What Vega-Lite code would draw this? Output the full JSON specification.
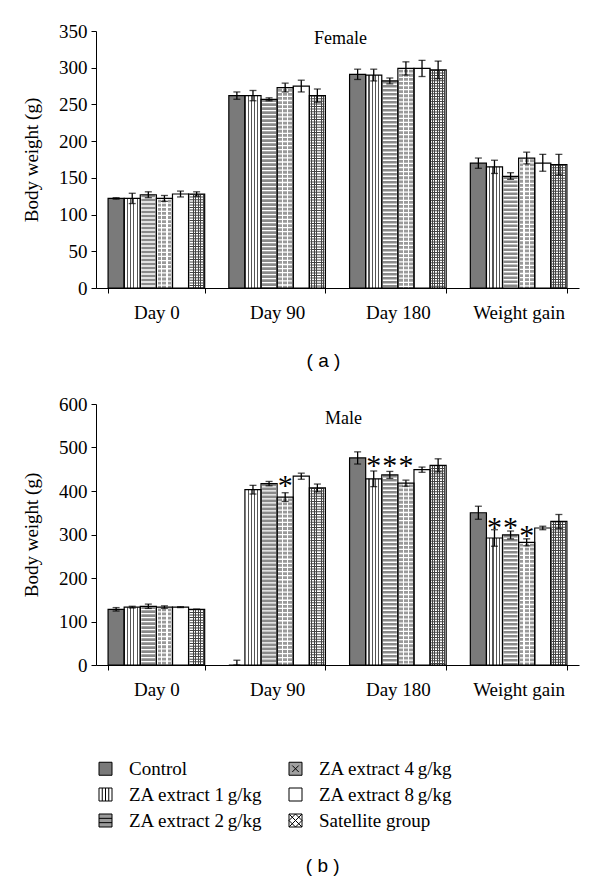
{
  "$schema": "https://vega.github.io/schema/vega-lite/v6.json",
  "background": "white",
  "padding": {"left": 22, "top": 22, "right": 5, "bottom": 5},
  "spacing": 25,
  "title": {"text": "( b )", "orient": "bottom", "anchor": "middle", "font": "Liberation Sans", "fontSize": 19, "fontWeight": "normal", "color": "black", "offset": 26, "dx": 22},
  "datasets": {
    "female": [
      {"cat": "Day 0", "g": "C", "group": "Control", "mean": 122, "lo": 121, "hi": 123},
      {"cat": "Day 0", "g": "Z1", "group": "ZA extract 1\u2009g/kg", "mean": 122, "lo": 115, "hi": 129},
      {"cat": "Day 0", "g": "Z2", "group": "ZA extract 2\u2009g/kg", "mean": 127, "lo": 123, "hi": 131},
      {"cat": "Day 0", "g": "Z4", "group": "ZA extract 4\u2009g/kg", "mean": 122, "lo": 118, "hi": 126},
      {"cat": "Day 0", "g": "Z8", "group": "ZA extract 8\u2009g/kg", "mean": 128, "lo": 124, "hi": 132},
      {"cat": "Day 0", "g": "S", "group": "Satellite group", "mean": 128, "lo": 125, "hi": 131},
      {"cat": "Day 90", "g": "C", "group": "Control", "mean": 262, "lo": 257, "hi": 267},
      {"cat": "Day 90", "g": "Z1", "group": "ZA extract 1\u2009g/kg", "mean": 262, "lo": 255, "hi": 269},
      {"cat": "Day 90", "g": "Z2", "group": "ZA extract 2\u2009g/kg", "mean": 257, "lo": 255, "hi": 259},
      {"cat": "Day 90", "g": "Z4", "group": "ZA extract 4\u2009g/kg", "mean": 273, "lo": 267, "hi": 279},
      {"cat": "Day 90", "g": "Z8", "group": "ZA extract 8\u2009g/kg", "mean": 275, "lo": 267, "hi": 283},
      {"cat": "Day 90", "g": "S", "group": "Satellite group", "mean": 262, "lo": 253, "hi": 271},
      {"cat": "Day 180", "g": "C", "group": "Control", "mean": 291, "lo": 284, "hi": 298},
      {"cat": "Day 180", "g": "Z1", "group": "ZA extract 1\u2009g/kg", "mean": 290, "lo": 282, "hi": 298},
      {"cat": "Day 180", "g": "Z2", "group": "ZA extract 2\u2009g/kg", "mean": 282, "lo": 278, "hi": 286},
      {"cat": "Day 180", "g": "Z4", "group": "ZA extract 4\u2009g/kg", "mean": 299, "lo": 290, "hi": 308},
      {"cat": "Day 180", "g": "Z8", "group": "ZA extract 8\u2009g/kg", "mean": 299, "lo": 288, "hi": 310},
      {"cat": "Day 180", "g": "S", "group": "Satellite group", "mean": 297, "lo": 285, "hi": 309},
      {"cat": "Weight gain", "g": "C", "group": "Control", "mean": 170, "lo": 163, "hi": 177},
      {"cat": "Weight gain", "g": "Z1", "group": "ZA extract 1\u2009g/kg", "mean": 165, "lo": 156, "hi": 174},
      {"cat": "Weight gain", "g": "Z2", "group": "ZA extract 2\u2009g/kg", "mean": 152, "lo": 148, "hi": 157},
      {"cat": "Weight gain", "g": "Z4", "group": "ZA extract 4\u2009g/kg", "mean": 177, "lo": 169, "hi": 185},
      {"cat": "Weight gain", "g": "Z8", "group": "ZA extract 8\u2009g/kg", "mean": 170, "lo": 159, "hi": 182},
      {"cat": "Weight gain", "g": "S", "group": "Satellite group", "mean": 168, "lo": 154, "hi": 182}
    ],
    "male": [
      {"cat": "Day 0", "g": "C", "group": "Control", "mean": 128, "lo": 124, "hi": 132},
      {"cat": "Day 0", "g": "Z1", "group": "ZA extract 1\u2009g/kg", "mean": 133, "lo": 131, "hi": 135},
      {"cat": "Day 0", "g": "Z2", "group": "ZA extract 2\u2009g/kg", "mean": 135, "lo": 130, "hi": 140},
      {"cat": "Day 0", "g": "Z4", "group": "ZA extract 4\u2009g/kg", "mean": 133, "lo": 130, "hi": 136},
      {"cat": "Day 0", "g": "Z8", "group": "ZA extract 8\u2009g/kg", "mean": 133, "lo": 132, "hi": 134},
      {"cat": "Day 0", "g": "S", "group": "Satellite group", "mean": 128, "lo": 128, "hi": 128},
      {"cat": "Day 90", "g": "C", "group": "Control", "mean": 0, "lo": 0, "hi": 11},
      {"cat": "Day 90", "g": "Z1", "group": "ZA extract 1\u2009g/kg", "mean": 403, "lo": 393, "hi": 413},
      {"cat": "Day 90", "g": "Z2", "group": "ZA extract 2\u2009g/kg", "mean": 417, "lo": 412, "hi": 422},
      {"cat": "Day 90", "g": "Z4", "group": "ZA extract 4\u2009g/kg", "mean": 386, "lo": 376, "hi": 396, "star": 422},
      {"cat": "Day 90", "g": "Z8", "group": "ZA extract 8\u2009g/kg", "mean": 434, "lo": 427, "hi": 441},
      {"cat": "Day 90", "g": "S", "group": "Satellite group", "mean": 407, "lo": 398, "hi": 416},
      {"cat": "Day 180", "g": "C", "group": "Control", "mean": 476, "lo": 462, "hi": 490},
      {"cat": "Day 180", "g": "Z1", "group": "ZA extract 1\u2009g/kg", "mean": 428, "lo": 410, "hi": 446, "star": 470},
      {"cat": "Day 180", "g": "Z2", "group": "ZA extract 2\u2009g/kg", "mean": 437, "lo": 429, "hi": 445, "star": 470},
      {"cat": "Day 180", "g": "Z4", "group": "ZA extract 4\u2009g/kg", "mean": 418, "lo": 411, "hi": 425, "star": 470},
      {"cat": "Day 180", "g": "Z8", "group": "ZA extract 8\u2009g/kg", "mean": 449, "lo": 443, "hi": 455},
      {"cat": "Day 180", "g": "S", "group": "Satellite group", "mean": 459, "lo": 444, "hi": 474},
      {"cat": "Weight gain", "g": "C", "group": "Control", "mean": 350, "lo": 335, "hi": 365},
      {"cat": "Weight gain", "g": "Z1", "group": "ZA extract 1\u2009g/kg", "mean": 292, "lo": 273, "hi": 311, "star": 326},
      {"cat": "Weight gain", "g": "Z2", "group": "ZA extract 2\u2009g/kg", "mean": 299, "lo": 290, "hi": 308, "star": 326},
      {"cat": "Weight gain", "g": "Z4", "group": "ZA extract 4\u2009g/kg", "mean": 282, "lo": 274, "hi": 290, "star": 307},
      {"cat": "Weight gain", "g": "Z8", "group": "ZA extract 8\u2009g/kg", "mean": 315, "lo": 311, "hi": 319},
      {"cat": "Weight gain", "g": "S", "group": "Satellite group", "mean": 330, "lo": 314, "hi": 346}
    ]
  },
  "vconcat": [
    {
      "width": 483,
      "height": 257,
      "data": {"name": "female"},
      "title": {"text": "Female", "frame": "group", "orient": "top", "anchor": "middle", "baseline": "top", "offset": -26, "dx": 3, "font": "Liberation Serif", "fontSize": 18, "fontWeight": "normal", "color": "black"},
      "encoding": {
        "x": {"field": "cat", "type": "nominal", "sort": ["Day 0", "Day 90", "Day 180", "Weight gain"], "scale": {"paddingInner": 0.2, "paddingOuter": 0.1}, "axis": {"title": "( a )", "labelAngle": 0, "tickBand": "extent", "labelPadding": 10, "titleFont": "Liberation Sans", "titleFontSize": 19, "titlePadding": 29, "titleX": 227}},
        "xOffset": {"field": "g", "type": "nominal", "scale": {"domain": ["C", "Z1", "Z2", "Z4", "Z8", "S"], "paddingInner": 0, "paddingOuter": 0}}
      },
      "layer": [
        {"mark": {"type": "bar", "fill": "white"}, "encoding": {"y": {"field": "mean", "type": "quantitative", "title": "Body weight (g)", "scale": {"domain": [0, 350], "nice": false}, "axis": {"values": [0, 50, 100, 150, 200, 250, 300, 350], "titlePadding": 17, "labelPadding": 4}}}},
        {"transform": [{"filter": "datum.g === 'C'"}], "mark": {"type": "bar", "fill": "#7a7a7a"}, "encoding": {"y": {"field": "mean", "type": "quantitative", "title": "Body weight (g)", "scale": {"domain": [0, 350], "nice": false}, "axis": {"values": [0, 50, 100, 150, 200, 250, 300, 350], "titlePadding": 17, "labelPadding": 4}}}},
        {"transform": [{"filter": "datum.g === 'Z1'"}], "mark": {"type": "bar", "fill": {"gradient": "linear", "x1": 0, "y1": 0, "x2": 1, "y2": 0, "stops": [{"offset": 0, "color": "white"}, {"offset": 0.17, "color": "white"}, {"offset": 0.17, "color": "#555555"}, {"offset": 0.24, "color": "#555555"}, {"offset": 0.24, "color": "white"}, {"offset": 0.37, "color": "white"}, {"offset": 0.37, "color": "#555555"}, {"offset": 0.44, "color": "#555555"}, {"offset": 0.44, "color": "white"}, {"offset": 0.57, "color": "white"}, {"offset": 0.57, "color": "#555555"}, {"offset": 0.64, "color": "#555555"}, {"offset": 0.64, "color": "white"}, {"offset": 0.77, "color": "white"}, {"offset": 0.77, "color": "#555555"}, {"offset": 0.84, "color": "#555555"}, {"offset": 0.84, "color": "white"}, {"offset": 1, "color": "white"}]}}, "encoding": {"y": {"field": "mean", "type": "quantitative", "title": "Body weight (g)", "scale": {"domain": [0, 350], "nice": false}, "axis": {"values": [0, 50, 100, 150, 200, 250, 300, 350], "titlePadding": 17, "labelPadding": 4}}}},
        {"transform": [{"filter": "datum.g === 'Z2'"}], "mark": {"type": "rule", "stroke": "#8a8a8a", "strokeWidth": 14, "strokeDash": [2.6, 1.4], "strokeCap": "butt"}, "encoding": {"y": {"field": "mean", "type": "quantitative", "title": "Body weight (g)", "scale": {"domain": [0, 350], "nice": false}, "axis": {"values": [0, 50, 100, 150, 200, 250, 300, 350], "titlePadding": 17, "labelPadding": 4}}, "y2": {"datum": 0}}},
        {"transform": [{"filter": "datum.g === 'Z4'"}], "mark": {"type": "bar", "fill": {"gradient": "linear", "x1": 0, "y1": 0, "x2": 1, "y2": 0, "stops": [{"offset": 0, "color": "white"}, {"offset": 0.07, "color": "white"}, {"offset": 0.07, "color": "#9a9a9a"}, {"offset": 0.3, "color": "#9a9a9a"}, {"offset": 0.3, "color": "white"}, {"offset": 0.38, "color": "white"}, {"offset": 0.38, "color": "#9a9a9a"}, {"offset": 0.62, "color": "#9a9a9a"}, {"offset": 0.62, "color": "white"}, {"offset": 0.7, "color": "white"}, {"offset": 0.7, "color": "#9a9a9a"}, {"offset": 0.93, "color": "#9a9a9a"}, {"offset": 0.93, "color": "white"}, {"offset": 1, "color": "white"}]}}, "encoding": {"y": {"field": "mean", "type": "quantitative", "title": "Body weight (g)", "scale": {"domain": [0, 350], "nice": false}, "axis": {"values": [0, 50, 100, 150, 200, 250, 300, 350], "titlePadding": 17, "labelPadding": 4}}}},
        {"transform": [{"filter": "datum.g === 'Z4'"}], "mark": {"type": "rule", "stroke": "white", "strokeWidth": 15, "strokeDash": [1.3, 2.8], "strokeCap": "butt"}, "encoding": {"y": {"field": "mean", "type": "quantitative", "title": "Body weight (g)", "scale": {"domain": [0, 350], "nice": false}, "axis": {"values": [0, 50, 100, 150, 200, 250, 300, 350], "titlePadding": 17, "labelPadding": 4}}, "y2": {"datum": 0}}},
        {"transform": [{"filter": "datum.g === 'S'"}], "mark": {"type": "bar", "fill": {"gradient": "linear", "x1": 0, "y1": 0, "x2": 1, "y2": 0, "stops": [{"offset": 0, "color": "white"}, {"offset": 0.12, "color": "white"}, {"offset": 0.12, "color": "#444444"}, {"offset": 0.18, "color": "#444444"}, {"offset": 0.18, "color": "white"}, {"offset": 0.27, "color": "white"}, {"offset": 0.27, "color": "#444444"}, {"offset": 0.33, "color": "#444444"}, {"offset": 0.33, "color": "white"}, {"offset": 0.42, "color": "white"}, {"offset": 0.42, "color": "#444444"}, {"offset": 0.48, "color": "#444444"}, {"offset": 0.48, "color": "white"}, {"offset": 0.57, "color": "white"}, {"offset": 0.57, "color": "#444444"}, {"offset": 0.63, "color": "#444444"}, {"offset": 0.63, "color": "white"}, {"offset": 0.72, "color": "white"}, {"offset": 0.72, "color": "#444444"}, {"offset": 0.78, "color": "#444444"}, {"offset": 0.78, "color": "white"}, {"offset": 0.87, "color": "white"}, {"offset": 0.87, "color": "#444444"}, {"offset": 0.93, "color": "#444444"}, {"offset": 0.93, "color": "white"}, {"offset": 1, "color": "white"}]}}, "encoding": {"y": {"field": "mean", "type": "quantitative", "title": "Body weight (g)", "scale": {"domain": [0, 350], "nice": false}, "axis": {"values": [0, 50, 100, 150, 200, 250, 300, 350], "titlePadding": 17, "labelPadding": 4}}}},
        {"transform": [{"filter": "datum.g === 'S'"}], "mark": {"type": "rule", "stroke": "#444444", "strokeWidth": 14, "strokeDash": [1, 1.6], "strokeCap": "butt"}, "encoding": {"y": {"field": "mean", "type": "quantitative", "title": "Body weight (g)", "scale": {"domain": [0, 350], "nice": false}, "axis": {"values": [0, 50, 100, 150, 200, 250, 300, 350], "titlePadding": 17, "labelPadding": 4}}, "y2": {"datum": 0}}},
        {"mark": {"type": "bar", "filled": false, "stroke": "black", "strokeWidth": 1.2}, "encoding": {"y": {"field": "mean", "type": "quantitative", "title": "Body weight (g)", "scale": {"domain": [0, 350], "nice": false}, "axis": {"values": [0, 50, 100, 150, 200, 250, 300, 350], "titlePadding": 17, "labelPadding": 4}}}},
        {"mark": {"type": "rule", "stroke": "black", "strokeWidth": 1.3}, "encoding": {"y": {"field": "lo", "type": "quantitative", "title": "Body weight (g)", "scale": {"domain": [0, 350], "nice": false}, "axis": {"values": [0, 50, 100, 150, 200, 250, 300, 350], "titlePadding": 17, "labelPadding": 4}}, "y2": {"field": "hi"}}},
        {"mark": {"type": "tick", "color": "black", "size": 7, "thickness": 1.3}, "encoding": {"y": {"field": "hi", "type": "quantitative", "title": "Body weight (g)", "scale": {"domain": [0, 350], "nice": false}, "axis": {"values": [0, 50, 100, 150, 200, 250, 300, 350], "titlePadding": 17, "labelPadding": 4}}}},
        {"mark": {"type": "tick", "color": "black", "size": 7, "thickness": 1.3}, "encoding": {"y": {"field": "lo", "type": "quantitative", "title": "Body weight (g)", "scale": {"domain": [0, 350], "nice": false}, "axis": {"values": [0, 50, 100, 150, 200, 250, 300, 350], "titlePadding": 17, "labelPadding": 4}}}}
      ]
    },
    {
      "width": 483,
      "height": 261,
      "data": {"name": "male"},
      "title": {"text": "Male", "frame": "group", "orient": "top", "anchor": "middle", "baseline": "top", "offset": -33, "dx": 6, "font": "Liberation Serif", "fontSize": 18, "fontWeight": "normal", "color": "black"},
      "encoding": {
        "x": {"field": "cat", "type": "nominal", "sort": ["Day 0", "Day 90", "Day 180", "Weight gain"], "scale": {"paddingInner": 0.2, "paddingOuter": 0.1}, "axis": {"title": null, "labelAngle": 0, "tickBand": "extent", "labelPadding": 10}},
        "xOffset": {"field": "g", "type": "nominal", "scale": {"domain": ["C", "Z1", "Z2", "Z4", "Z8", "S"], "paddingInner": 0, "paddingOuter": 0}}
      },
      "layer": [
        {"mark": {"type": "bar", "fill": "white"}, "encoding": {"y": {"field": "mean", "type": "quantitative", "title": "Body weight (g)", "scale": {"domain": [0, 600], "nice": false}, "axis": {"values": [0, 100, 200, 300, 400, 500, 600], "titlePadding": 17, "labelPadding": 4}}}},
        {"transform": [{"filter": "datum.g === 'C'"}], "mark": {"type": "bar", "fill": "#7a7a7a"}, "encoding": {"y": {"field": "mean", "type": "quantitative", "title": "Body weight (g)", "scale": {"domain": [0, 600], "nice": false}, "axis": {"values": [0, 100, 200, 300, 400, 500, 600], "titlePadding": 17, "labelPadding": 4}}}},
        {"transform": [{"filter": "datum.g === 'Z1'"}], "mark": {"type": "bar", "fill": {"gradient": "linear", "x1": 0, "y1": 0, "x2": 1, "y2": 0, "stops": [{"offset": 0, "color": "white"}, {"offset": 0.17, "color": "white"}, {"offset": 0.17, "color": "#555555"}, {"offset": 0.24, "color": "#555555"}, {"offset": 0.24, "color": "white"}, {"offset": 0.37, "color": "white"}, {"offset": 0.37, "color": "#555555"}, {"offset": 0.44, "color": "#555555"}, {"offset": 0.44, "color": "white"}, {"offset": 0.57, "color": "white"}, {"offset": 0.57, "color": "#555555"}, {"offset": 0.64, "color": "#555555"}, {"offset": 0.64, "color": "white"}, {"offset": 0.77, "color": "white"}, {"offset": 0.77, "color": "#555555"}, {"offset": 0.84, "color": "#555555"}, {"offset": 0.84, "color": "white"}, {"offset": 1, "color": "white"}]}}, "encoding": {"y": {"field": "mean", "type": "quantitative", "title": "Body weight (g)", "scale": {"domain": [0, 600], "nice": false}, "axis": {"values": [0, 100, 200, 300, 400, 500, 600], "titlePadding": 17, "labelPadding": 4}}}},
        {"transform": [{"filter": "datum.g === 'Z2'"}], "mark": {"type": "rule", "stroke": "#8a8a8a", "strokeWidth": 14, "strokeDash": [2.6, 1.4], "strokeCap": "butt"}, "encoding": {"y": {"field": "mean", "type": "quantitative", "title": "Body weight (g)", "scale": {"domain": [0, 600], "nice": false}, "axis": {"values": [0, 100, 200, 300, 400, 500, 600], "titlePadding": 17, "labelPadding": 4}}, "y2": {"datum": 0}}},
        {"transform": [{"filter": "datum.g === 'Z4'"}], "mark": {"type": "bar", "fill": {"gradient": "linear", "x1": 0, "y1": 0, "x2": 1, "y2": 0, "stops": [{"offset": 0, "color": "white"}, {"offset": 0.07, "color": "white"}, {"offset": 0.07, "color": "#9a9a9a"}, {"offset": 0.3, "color": "#9a9a9a"}, {"offset": 0.3, "color": "white"}, {"offset": 0.38, "color": "white"}, {"offset": 0.38, "color": "#9a9a9a"}, {"offset": 0.62, "color": "#9a9a9a"}, {"offset": 0.62, "color": "white"}, {"offset": 0.7, "color": "white"}, {"offset": 0.7, "color": "#9a9a9a"}, {"offset": 0.93, "color": "#9a9a9a"}, {"offset": 0.93, "color": "white"}, {"offset": 1, "color": "white"}]}}, "encoding": {"y": {"field": "mean", "type": "quantitative", "title": "Body weight (g)", "scale": {"domain": [0, 600], "nice": false}, "axis": {"values": [0, 100, 200, 300, 400, 500, 600], "titlePadding": 17, "labelPadding": 4}}}},
        {"transform": [{"filter": "datum.g === 'Z4'"}], "mark": {"type": "rule", "stroke": "white", "strokeWidth": 15, "strokeDash": [1.3, 2.8], "strokeCap": "butt"}, "encoding": {"y": {"field": "mean", "type": "quantitative", "title": "Body weight (g)", "scale": {"domain": [0, 600], "nice": false}, "axis": {"values": [0, 100, 200, 300, 400, 500, 600], "titlePadding": 17, "labelPadding": 4}}, "y2": {"datum": 0}}},
        {"transform": [{"filter": "datum.g === 'S'"}], "mark": {"type": "bar", "fill": {"gradient": "linear", "x1": 0, "y1": 0, "x2": 1, "y2": 0, "stops": [{"offset": 0, "color": "white"}, {"offset": 0.12, "color": "white"}, {"offset": 0.12, "color": "#444444"}, {"offset": 0.18, "color": "#444444"}, {"offset": 0.18, "color": "white"}, {"offset": 0.27, "color": "white"}, {"offset": 0.27, "color": "#444444"}, {"offset": 0.33, "color": "#444444"}, {"offset": 0.33, "color": "white"}, {"offset": 0.42, "color": "white"}, {"offset": 0.42, "color": "#444444"}, {"offset": 0.48, "color": "#444444"}, {"offset": 0.48, "color": "white"}, {"offset": 0.57, "color": "white"}, {"offset": 0.57, "color": "#444444"}, {"offset": 0.63, "color": "#444444"}, {"offset": 0.63, "color": "white"}, {"offset": 0.72, "color": "white"}, {"offset": 0.72, "color": "#444444"}, {"offset": 0.78, "color": "#444444"}, {"offset": 0.78, "color": "white"}, {"offset": 0.87, "color": "white"}, {"offset": 0.87, "color": "#444444"}, {"offset": 0.93, "color": "#444444"}, {"offset": 0.93, "color": "white"}, {"offset": 1, "color": "white"}]}}, "encoding": {"y": {"field": "mean", "type": "quantitative", "title": "Body weight (g)", "scale": {"domain": [0, 600], "nice": false}, "axis": {"values": [0, 100, 200, 300, 400, 500, 600], "titlePadding": 17, "labelPadding": 4}}}},
        {"transform": [{"filter": "datum.g === 'S'"}], "mark": {"type": "rule", "stroke": "#444444", "strokeWidth": 14, "strokeDash": [1, 1.6], "strokeCap": "butt"}, "encoding": {"y": {"field": "mean", "type": "quantitative", "title": "Body weight (g)", "scale": {"domain": [0, 600], "nice": false}, "axis": {"values": [0, 100, 200, 300, 400, 500, 600], "titlePadding": 17, "labelPadding": 4}}, "y2": {"datum": 0}}},
        {"mark": {"type": "bar", "filled": false, "stroke": "black", "strokeWidth": 1.2}, "encoding": {"y": {"field": "mean", "type": "quantitative", "title": "Body weight (g)", "scale": {"domain": [0, 600], "nice": false}, "axis": {"values": [0, 100, 200, 300, 400, 500, 600], "titlePadding": 17, "labelPadding": 4}}}},
        {"mark": {"type": "rule", "stroke": "black", "strokeWidth": 1.3}, "encoding": {"y": {"field": "lo", "type": "quantitative", "title": "Body weight (g)", "scale": {"domain": [0, 600], "nice": false}, "axis": {"values": [0, 100, 200, 300, 400, 500, 600], "titlePadding": 17, "labelPadding": 4}}, "y2": {"field": "hi"}}},
        {"mark": {"type": "tick", "color": "black", "size": 7, "thickness": 1.3}, "encoding": {"y": {"field": "hi", "type": "quantitative", "title": "Body weight (g)", "scale": {"domain": [0, 600], "nice": false}, "axis": {"values": [0, 100, 200, 300, 400, 500, 600], "titlePadding": 17, "labelPadding": 4}}}},
        {"mark": {"type": "tick", "color": "black", "size": 7, "thickness": 1.3}, "encoding": {"y": {"field": "lo", "type": "quantitative", "title": "Body weight (g)", "scale": {"domain": [0, 600], "nice": false}, "axis": {"values": [0, 100, 200, 300, 400, 500, 600], "titlePadding": 17, "labelPadding": 4}}}},
        {"transform": [{"filter": "isValid(datum.star)"}], "mark": {"type": "text", "text": "*", "font": "Liberation Serif", "fontSize": 30, "baseline": "alphabetic", "dy": 14, "color": "black"}, "encoding": {"y": {"field": "star", "type": "quantitative", "title": "Body weight (g)", "scale": {"domain": [0, 600], "nice": false}, "axis": {"values": [0, 100, 200, 300, 400, 500, 600], "titlePadding": 17, "labelPadding": 4}}}},
        {"mark": {"type": "point", "filled": true, "opacity": 0},
         "encoding": {
           "y": {"field": "mean", "type": "quantitative", "title": "Body weight (g)", "scale": {"domain": [0, 600], "nice": false}, "axis": {"values": [0, 100, 200, 300, 400, 500, 600], "titlePadding": 17, "labelPadding": 4}},
           "fill": {"field": "group", "type": "nominal", "scale": {"domain": ["Control", "ZA extract 4\u2009g/kg", "ZA extract 1\u2009g/kg", "ZA extract 8\u2009g/kg", "ZA extract 2\u2009g/kg", "Satellite group"], "range": ["#7a7a7a", "#a0a0a0", "white", "white", "#9a9a9a", "white"]},
             "legend": {"title": null, "orient": "bottom", "direction": "horizontal", "columns": 2, "symbolSize": 169, "labelFont": "Liberation Serif", "labelFontSize": 19, "labelColor": "black", "labelLimit": 400, "labelOffset": 14, "rowPadding": 6, "columnPadding": 23, "offset": 60, "encode": {"symbols": {"update": {"opacity": {"value": 1}, "stroke": {"value": "black"}, "strokeWidth": {"value": 1}}}}}},
           "shape": {"field": "group", "type": "nominal", "scale": {"domain": ["Control", "ZA extract 4\u2009g/kg", "ZA extract 1\u2009g/kg", "ZA extract 8\u2009g/kg", "ZA extract 2\u2009g/kg", "Satellite group"], "range": ["M-1,-1H1V1H-1Z", "M-1,-1H1V1H-1Z M-0.5,-0.5L0.5,0.5 M0.5,-0.5L-0.5,0.5", "M-1,-1H1V1H-1Z M-0.5,-1V1 M0,-1V1 M0.5,-1V1", "M-1,-1H1V1H-1Z", "M-1,-1H1V1H-1Z M-1,-0.33H1 M-1,0.33H1", "M-1,-1H1V1H-1Z M-1,0L0,-1 M-1,1L1,-1 M0,1L1,0 M-1,0L0,1 M-1,-1L1,1 M0,-1L1,0"]},
             "legend": {"title": null, "orient": "bottom", "direction": "horizontal", "columns": 2, "symbolSize": 169, "labelFont": "Liberation Serif", "labelFontSize": 19, "labelColor": "black", "labelLimit": 400, "labelOffset": 14, "rowPadding": 6, "columnPadding": 23, "offset": 60, "encode": {"symbols": {"update": {"opacity": {"value": 1}, "stroke": {"value": "black"}, "strokeWidth": {"value": 1}}}}}}
         }}
      ]
    }
  ],
  "config": {
    "view": {"stroke": null},
    "axis": {"domainColor": "black", "tickColor": "black", "labelColor": "black", "titleColor": "black", "labelFont": "Liberation Serif", "titleFont": "Liberation Serif", "labelFontSize": 19, "titleFontSize": 19, "titleFontWeight": "normal", "grid": false, "tickSize": 5, "domainWidth": 1, "tickWidth": 1}
  }
}
